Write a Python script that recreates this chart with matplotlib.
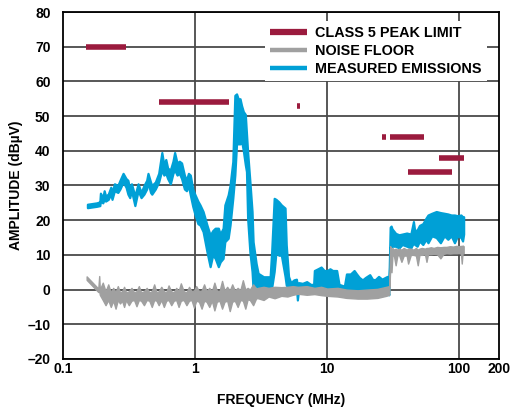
import matplotlib
matplotlib.use("Agg")
import matplotlib.pyplot as plt
from matplotlib.ticker import FixedLocator, NullLocator

plt.rcParams['font.family'] = ['Liberation Sans', 'DejaVu Sans']
plt.rcParams['font.weight'] = 'bold'

# ---- Class 5 peak limit segments (start MHz, stop MHz, dBuV)
limit_start = [0.15, 0.53, 5.9, 26.0, 30.0, 41.0, 70.0]
limit_stop = [0.30, 1.80, 6.2, 28.0, 54.0, 88.0, 108.0]
limit_level = [70, 54, 53, 44, 44, 34, 38]

# ---- Measured emissions (envelope of the trace)
em_freq = [0.153, 0.18, 0.19, 0.192, 0.20, 0.205, 0.21, 0.22, 0.23, 0.235,
           0.245, 0.26, 0.27, 0.285, 0.30, 0.31, 0.32, 0.33, 0.35, 0.37,
           0.39, 0.41, 0.43, 0.44, 0.46, 0.47, 0.50, 0.53, 0.56, 0.58,
           0.60, 0.62, 0.65, 0.68, 0.70, 0.73, 0.76, 0.79, 0.83, 0.86,
           0.89, 0.92, 0.96, 1.0, 1.05, 1.09, 1.15, 1.23, 1.30, 1.36,
           1.42, 1.50, 1.55, 1.63, 1.68, 1.78, 1.84, 1.93, 2.0, 2.06,
           2.12, 2.19, 2.25, 2.32, 2.40, 2.45, 2.50, 2.60, 2.70, 2.75,
           2.90, 3.0, 3.3, 3.7, 3.8, 3.97, 4.1, 4.3, 4.5, 4.8,
           4.9, 5.1, 5.3, 5.6, 5.85, 5.95, 6.1, 6.5, 7.0, 7.5,
           7.9, 8.0, 8.5, 9.0, 9.5, 10.0, 10.5, 11.0, 11.8, 12.3,
           13.5, 14.0, 15.0, 16.0, 16.7, 17.5, 18.5, 19.5, 21.0, 22.0,
           23.0, 24.5, 26.0, 27.5, 28.5, 29.3, 30.0, 30.5, 31.0, 33.0,
           35.0, 37.0, 40.0, 43.0, 45.0, 46.0, 48.0, 50.0, 53.0, 56.0,
           58.0, 62.0, 67.0, 72.0, 77.0, 82.0, 87.0, 92.0, 97.0, 103.0,
           106.0, 108.0]
em_hi = [24.6, 25.0, 25.3, 27.8, 26.5, 28.5, 27.0, 27.5, 29.5, 28.0,
         30.5, 30.0, 31.5, 33.5, 32.0, 31.5, 29.0, 30.5, 27.0, 30.5,
         28.0, 30.0, 31.5, 33.5, 31.0, 30.0, 31.0, 33.5, 39.5, 36.0,
         37.5, 35.0, 34.5, 37.0, 39.5, 36.5, 37.0, 36.5, 33.0, 31.5,
         33.5, 33.0, 29.0, 27.3, 25.5, 24.4, 22.5, 18.6, 15.7, 17.0,
         17.7, 17.7, 16.0, 17.7, 24.4, 27.3, 30.1, 36.9, 56.0, 56.4,
         55.0, 55.0, 53.0, 51.3, 50.5, 45.0, 39.7, 31.2, 22.5, 13.8,
         7.5, 4.7, 3.7, 3.7, 10.9, 26.3, 26.0, 25.3, 24.4, 23.5,
         12.9, 3.8, 2.0, 2.8, 3.0, 1.0, 2.0, 1.8, 2.3, 1.5,
         1.5, 5.5, 6.0, 6.5, 5.5, 5.5, 6.0, 5.5, 5.5, 1.5,
         1.0, 4.5, 4.5, 5.5, 4.5, 3.5, 2.8, 3.5, 4.3, 3.0,
         2.8, 3.8, 3.0, 3.5, 3.8, 1.0, 18.0, 18.3, 17.5, 16.2,
         15.8, 16.0, 16.3, 16.0, 19.6, 17.0, 17.2, 18.5, 19.0, 20.6,
         21.5, 22.0, 22.5, 22.2, 22.0, 21.8, 21.5, 21.5, 21.3, 21.5,
         21.0, 21.0]
em_lo = [23.6, 24.0, 24.2, 25.5, 25.0, 26.0, 25.5, 26.0, 27.5, 26.0,
         28.5, 28.0, 29.0, 31.0, 29.5, 27.5, 26.5, 28.5, 24.2, 28.5,
         26.5, 27.5, 29.0, 31.0, 28.0, 27.5, 29.0, 31.0, 34.5, 33.0,
         33.5, 32.0, 30.5, 33.5, 34.5, 33.0, 33.5, 32.0, 29.0, 28.5,
         30.0, 27.3, 24.0, 21.5, 19.0, 18.6, 16.7, 10.9, 6.6, 10.0,
         9.0, 6.6, 8.0, 9.0, 13.8, 14.8, 18.6, 26.3, 33.0, 42.0,
         42.0, 42.0, 42.8, 40.0, 36.0, 34.0, 20.5, 10.8, 5.2, -0.1,
         1.3, 0.5, 0.5, 0.5, 0.5, 5.2, 10.9, 9.9, 9.9, 3.8,
         1.3, 0.5, 0.3, 0.5, 0.5, -3.0, 0.5, 0.5, 0.8, 0.5,
         0.5, 0.5, 0.5, 0.3, 0.3, 0.3, 0.3, 0.3, 0.3, 0.3,
         0.0, 0.0, 0.0, 0.0, 0.0, 0.0, 0.0, 0.0, 0.0, 0.0,
         0.0, 0.0, 0.0, 0.0, 0.0, -1.5, 12.0, 12.5, 12.5, 12.5,
         12.0, 13.0, 12.5, 12.0, 13.5, 13.0, 12.5, 14.0, 13.0, 14.5,
         13.5, 15.5, 15.0, 13.5, 15.5, 14.5, 15.5, 13.5, 15.5, 15.0,
         14.0, 16.0]

# ---- Noise floor (envelope of the trace)
nf_freq = [0.151, 0.185, 0.188,
           0.19, 0.2, 0.21, 0.22, 0.23, 0.24, 0.25, 0.26, 0.27, 0.28,
           0.29, 0.30, 0.315, 0.33, 0.345, 0.36, 0.375, 0.39, 0.41, 0.43,
           0.45, 0.47, 0.49, 0.51, 0.53, 0.555, 0.58, 0.605, 0.63, 0.66,
           0.69, 0.72, 0.75, 0.78, 0.82, 0.86, 0.90, 0.94, 0.98, 1.02,
           1.07, 1.12, 1.17, 1.22, 1.28, 1.34, 1.40, 1.46, 1.53, 1.60,
           1.67, 1.75, 1.83, 1.91, 2.0, 2.1, 2.2, 2.3, 2.4, 2.5,
           2.6, 2.75, 2.9, 3.0,
           3.3, 3.6, 4.0, 4.5, 5.0, 5.5, 6.0, 7.0, 8.0, 9.0,
           10.0, 12.0, 14.0, 17.0, 20.0, 24.0, 28.0, 29.5,
           30.0, 30.3, 30.7, 31.2, 32.0, 33.0, 34.0, 35.0, 36.5, 38.0,
           40.0, 41.0, 43.0, 45.0, 47.0, 48.5, 50.0, 52.0, 55.0, 56.5,
           58.0, 61.0, 64.0, 68.0, 72.0, 76.0, 80.0, 85.0, 90.0, 95.0,
           100.0, 103.0, 104.5, 106.0, 108.0]
nf_hi = [3.8, 0.3, 3.9,
         0.0, 2.0, -0.5, 1.5, -0.8, 0.5, -0.8, 1.0, -0.8, -0.5,
         0.8, -0.8, -0.5, 0.5, -0.8, -0.5, 1.0, -0.8, -0.5, 0.5,
         -0.8, -0.5, 1.5, -0.8, -0.5, 0.8, -0.5, -0.8, 1.2, -0.5,
         -0.8, 0.5, -0.5, 1.8, -0.5, -0.8, 0.8, -0.5, -0.3, 1.0,
         -0.5, -0.3, 1.5, -0.5, 0.5, -0.5, 2.0, -0.3, -0.5, 2.5,
         -0.3, 0.8, -0.3, 1.5, -0.3, 0.5, -0.2, 2.7, 0.0, 0.5,
         0.0, 1.5, 0.3, 0.5,
         0.8, 0.5, 0.8, 0.7, 0.8, 1.0, 0.8, 1.0, 0.5, 0.8,
         0.3, 0.5, 0.0, -0.2, 0.0, 0.2, 0.8, 1.0,
         12.5, 12.0, 11.5, 12.0, 11.5, 11.8, 11.5, 11.8, 11.5, 12.0,
         11.5, 11.8, 11.8, 11.5, 12.0, 11.5, 11.8, 12.0, 11.8, 12.0,
         12.0, 12.2, 12.0, 12.3, 12.2, 12.3, 12.3, 12.5, 12.4, 12.6,
         12.5, 12.6, 12.5, 12.7, 12.5]
nf_lo = [2.8, -0.7, -0.5,
         -1.5, -3.0, -4.5, -3.0, -5.0, -3.2, -5.5, -3.0, -4.0, -3.2,
         -5.0, -3.0, -4.5, -3.2, -3.0, -4.8, -3.0, -3.2, -4.5, -3.0,
         -3.2, -5.0, -3.0, -3.2, -4.5, -3.0, -5.0, -3.2, -3.0, -4.5,
         -3.2, -3.0, -5.0, -3.2, -3.0, -4.5, -3.2, -3.0, -5.2, -3.2,
         -3.5, -5.5, -3.2, -3.5, -5.0, -3.2, -6.0, -3.5, -3.2, -5.5,
         -3.5, -3.2, -6.2, -3.5, -3.2, -5.0, -3.0, -3.2, -5.5, -2.8,
         -3.0, -4.5, -2.5, -2.5,
         -3.0, -2.0, -2.5, -1.8, -2.0, -1.5, -1.2, -1.5, -1.3, -1.6,
         -1.8, -2.0, -2.4, -2.6, -2.6, -2.4, -1.8, -1.5,
         6.0, 9.5, 5.0, 9.8, 9.8, 7.0, 9.8, 10.0, 8.0, 9.8,
         9.8, 7.5, 10.0, 10.0, 9.8, 7.0, 10.0, 10.0, 10.2, 8.0,
         10.2, 10.2, 10.3, 10.2, 9.0, 10.3, 10.5, 10.4, 10.5, 10.5,
         10.5, 10.5, 7.5, 10.6, 10.5]

x_ticks = [0.1, 1, 10, 100, 200]
x_tick_labels = ["0.1", "1", "10", "100", "200"]
y_ticks = [-20, -10, 0, 10, 20, 30, 40, 50, 60, 70, 80]

C_LIMIT = "#9B1B3E"
C_NOISE = "#A0A0A0"
C_EMIS = "#00A0D6"

fig = plt.figure(figsize=(5.11, 4.13), dpi=100)
ax = fig.add_axes([0.1233, 0.1308, 0.8532, 0.8401])

ax.set_xscale('log')
ax.set_xlim(0.1, 200)
ax.set_ylim(-20, 80)

# grid
for yv in y_ticks:
    ax.axhline(yv, color="#4a4a4a", lw=1.3, zorder=1)
for xv in [1, 10, 100]:
    ax.axvline(xv, color="#4a4a4a", lw=1.3, zorder=1)

# traces
ax.fill_between(em_freq, em_lo, em_hi, color=C_EMIS, lw=1.6, edgecolor=C_EMIS, zorder=3)
ax.fill_between(nf_freq, nf_lo, nf_hi, color=C_NOISE, lw=1.0, edgecolor=C_NOISE, zorder=4)

for s, e, lv in zip(limit_start, limit_stop, limit_level):
    ax.plot([s, e], [lv, lv], color=C_LIMIT, lw=4, solid_capstyle='butt', zorder=5)

# legend handles
h1, = ax.plot([], [], color=C_LIMIT, lw=4.5, solid_capstyle='butt')
h2, = ax.plot([], [], color=C_NOISE, lw=3.2, solid_capstyle='butt')
h3, = ax.plot([], [], color=C_EMIS, lw=3.2, solid_capstyle='butt')
leg = ax.legend([h1, h2, h3], ["CLASS 5 PEAK LIMIT", "NOISE FLOOR", "MEASURED EMISSIONS"],
                loc='upper right', bbox_to_anchor=(0.972, 0.975), frameon=True,
                fancybox=False, framealpha=1, facecolor='white', edgecolor='none',
                prop={'weight': 'bold', 'size': 10.4}, handlelength=2.55,
                handletextpad=0.6, labelspacing=0.3, borderpad=0.35,
                borderaxespad=0.0)
leg.set_zorder(6)

ax.xaxis.set_major_locator(FixedLocator(x_ticks))
ax.set_xticklabels(x_tick_labels)
ax.xaxis.set_minor_locator(NullLocator())
ax.set_yticks(y_ticks)
ax.set_yticklabels([("\u2013" + str(-v)) if v < 0 else str(v) for v in y_ticks])
ax.tick_params(axis='both', length=0, labelsize=10)
ax.tick_params(axis='y', pad=9)
ax.tick_params(axis='x', pad=2.5)
for lab in ax.get_xticklabels() + ax.get_yticklabels():
    lab.set_fontweight('bold')

for sp in ax.spines.values():
    sp.set_color('black')
    sp.set_linewidth(1.3)
    sp.set_zorder(7)

ax.set_xlabel("FREQUENCY (MHz)", fontsize=10, fontweight='bold', labelpad=12)
ax.set_ylabel("AMPLITUDE (dB\u00b5V)", fontsize=10, fontweight='bold', labelpad=3.5)

fig.savefig("out.png", dpi=100)
